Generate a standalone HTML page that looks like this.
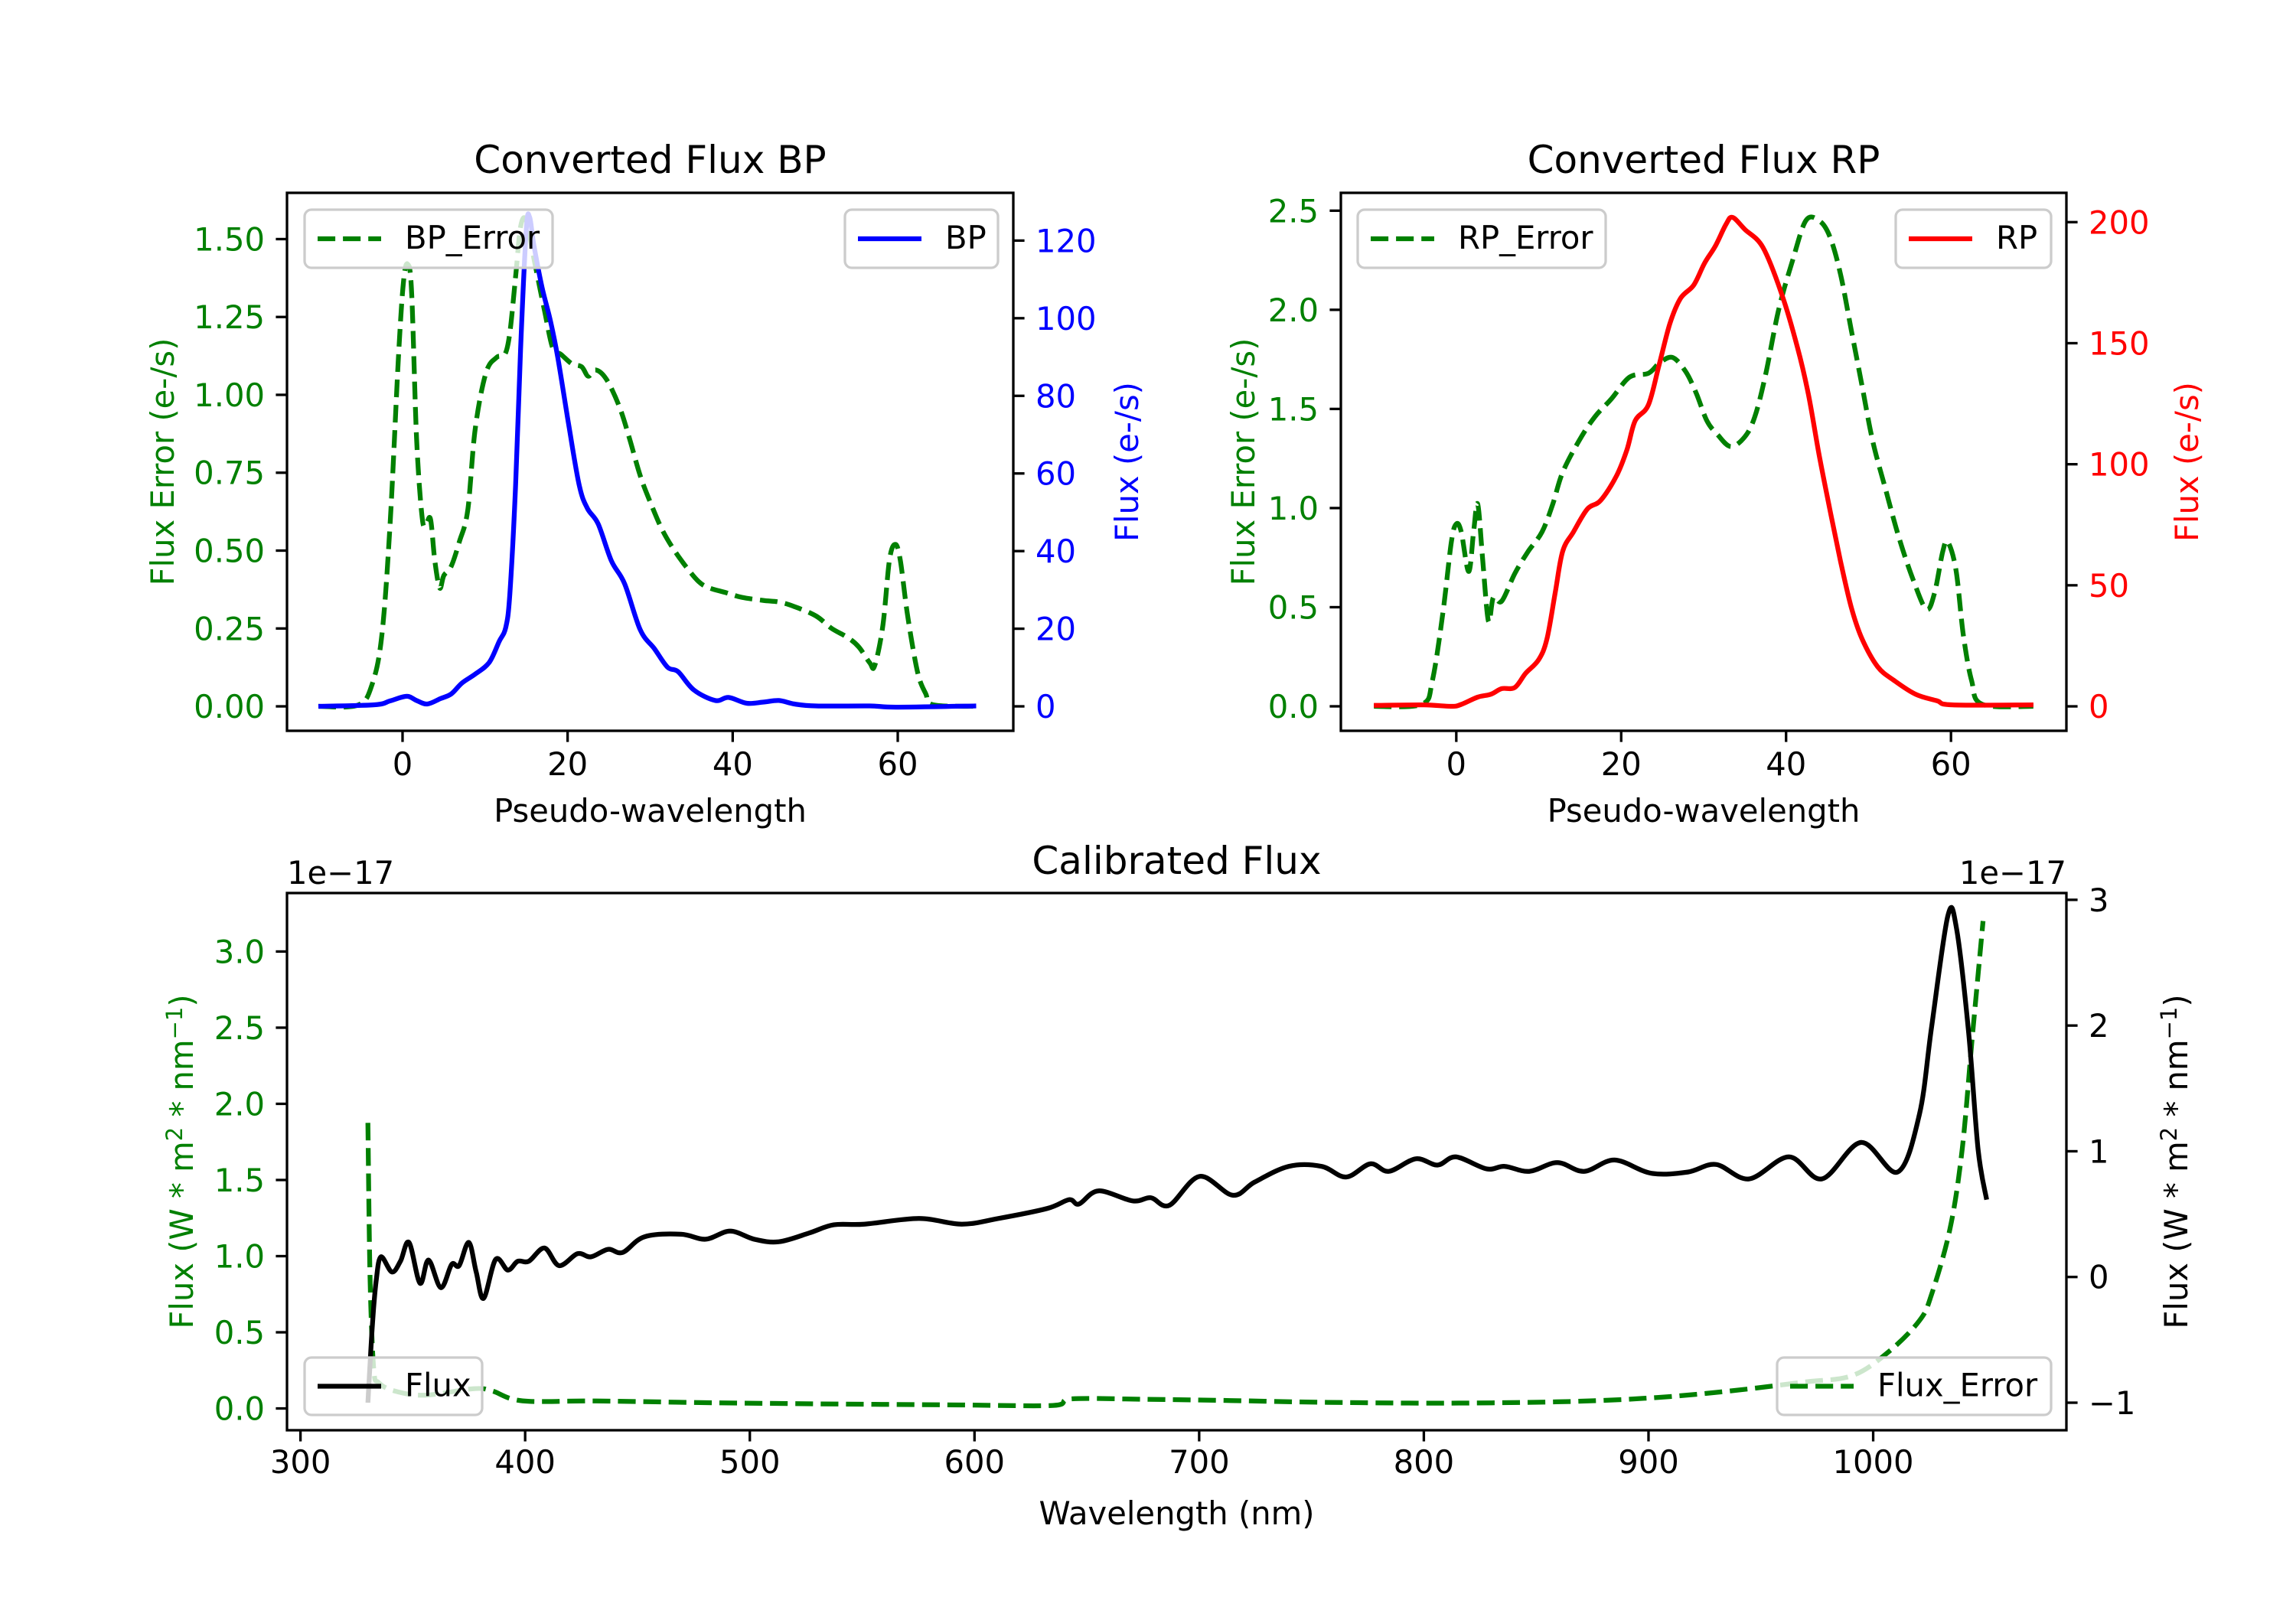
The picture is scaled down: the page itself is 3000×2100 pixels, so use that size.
<!DOCTYPE html>
<html><head><meta charset="utf-8"><style>
html,body{margin:0;padding:0;background:#fff;}
svg{display:block;font-family:"DejaVu Sans","Liberation Sans",sans-serif;}
</style></head><body>
<svg id="fig" xmlns="http://www.w3.org/2000/svg" width="3000" height="2100" viewBox="0 0 3000 2100">
<rect width="3000" height="2100" fill="#fff"/>
</svg>
<script>
// ---------- BP panel data ----------
const bpErrX=[-10.2,-5.4,-3.7,-2.5,-1.5,-0.5,0.1,0.6,1.1,1.7,2.4,2.9,3.4,3.9,4.5,5.0,5.9,6.9,7.9,8.8,10.1,11.4,12.4,13.0,13.7,14.3,15.0,15.9,17.2,18.2,19.2,20.5,21.7,22.5,23.4,24.7,26.3,27.5,28.8,30.1,31.4,32.7,34.3,35.9,37.2,39.2,41.1,43.7,45.6,47.5,50.1,52.0,54.0,55.3,56.6,57.2,58.2,59.0,59.7,60.3,61.2,62.4,63.4,64.3,69.5];
const bpErrY=[0,0.004,0.07,0.23,0.59,1.12,1.36,1.42,1.33,0.86,0.60,0.59,0.60,0.47,0.38,0.42,0.45,0.53,0.63,0.89,1.07,1.12,1.13,1.20,1.38,1.54,1.56,1.44,1.27,1.15,1.13,1.10,1.09,1.06,1.08,1.05,0.96,0.86,0.74,0.65,0.57,0.51,0.45,0.40,0.38,0.365,0.35,0.34,0.335,0.32,0.29,0.25,0.22,0.19,0.14,0.13,0.26,0.47,0.52,0.47,0.29,0.11,0.04,0.005,0];
const bpX=[-10.2,-3.4,-1.5,0.5,1.7,3.0,4.6,5.9,7.2,8.8,10.5,11.7,12.5,13.0,13.7,14.3,15.0,15.4,15.9,16.9,17.9,18.8,20.1,21.4,22.4,23.7,25.3,26.9,28.8,30.5,32.1,33.4,35.3,37.9,39.5,41.7,43.7,45.6,47.5,50.1,56.6,59.8,69.5];
const bpY=[0,0.4,1.4,2.6,1.5,0.6,2.0,3.2,6,8.3,11.3,16.7,20.3,29,57,92,123,126,119,108,99.5,90,73,57,51,47,37.5,31.6,19.7,14.9,10.1,8.9,4.2,1.5,2.3,0.8,1.1,1.5,0.6,0.1,0.1,-0.2,0.1];
const bpLeftTicks=[0,0.25,0.5,0.75,1.0,1.25,1.5];
const bpLeftLabels=["0.00","0.25","0.50","0.75","1.00","1.25","1.50"];
const bpRightTicks=[0,20,40,60,80,100,120];
// ---------- RP panel data ----------
const rpErrX=[-10,-4.2,-2.9,-1.6,-0.6,0,0.6,1.5,2.1,2.6,3.2,3.9,4.5,5.5,7.1,8.7,10.4,11.7,12.9,14.9,16.8,18.8,21.0,23.3,24.6,26.2,27.8,29.1,30.4,31.7,33.3,35.0,36.2,37.5,39.1,40.8,42.4,44.0,45.3,46.6,47.9,49.2,50.5,52.1,53.7,55.4,57.0,58.0,59.0,59.6,60.6,61.5,62.5,63.8,70];
const rpErrY=[0,0.01,0.13,0.48,0.83,0.92,0.88,0.68,0.88,1.02,0.74,0.43,0.55,0.53,0.67,0.78,0.88,1.02,1.18,1.34,1.46,1.55,1.66,1.68,1.73,1.76,1.69,1.58,1.44,1.37,1.31,1.36,1.46,1.67,2.0,2.25,2.45,2.45,2.37,2.18,1.90,1.62,1.34,1.09,0.85,0.64,0.49,0.57,0.78,0.83,0.69,0.36,0.13,0.01,0];
const rpX=[-10,-3.9,-0.6,0.6,2.6,4.2,5.5,7.1,8.4,10.0,11.0,12.0,12.9,14.2,15.9,17.5,19.4,20.7,21.7,23.3,24.6,25.9,27.2,28.8,30.1,31.4,32.7,33.5,35.0,37.2,39.5,41.4,42.7,44.0,45.3,46.6,47.9,49.2,51.1,53.1,55.7,58.3,60.2,70];
const rpY=[0.4,0.6,0,0.8,3.8,5.0,7.3,7.8,13.6,19.3,27.9,47,64,72,81.5,85,95,106,118,124.5,141,158,168.5,174,183,190,199,202,197,189.5,170,148,129,104,81.5,60,41,28,16.4,10.7,5,2.3,0.6,0.6];
const rpLeftTicks=[0,0.5,1.0,1.5,2.0,2.5];
const rpLeftLabels=["0.0","0.5","1.0","1.5","2.0","2.5"];
const rpRightTicks=[0,50,100,150,200];
const pseudoTicks=[0,20,40,60];
// ---------- Calibrated panel data ----------
const fluxX=[330,332,333.7,335.8,340.7,344.5,348.3,353.2,357,362.5,367.3,370.6,374.9,378.2,381.5,386.9,392.3,396.7,401.6,408.6,415.1,423.3,429.3,436.9,443.4,453.1,469.4,480.3,491.2,502,512.9,526.5,537.3,550.9,575.3,594.3,610.6,632.4,642.1,646.5,655.2,670.4,678.5,686.7,700.2,714.9,724.7,739.9,754.5,765.4,776.2,784.4,796.4,806.1,814.3,827.9,836,846.9,859.4,871.3,884.9,901.2,917.5,930,944.7,962.5,977.2,994.6,1010.9,1020.6,1026,1033.2,1037,1042.4,1046.7,1050.5];
const fluxY=[-1.0,-0.38,-0.03,0.16,0.04,0.125,0.275,-0.05,0.135,-0.085,0.1,0.09,0.275,0.04,-0.17,0.14,0.055,0.125,0.125,0.23,0.09,0.185,0.16,0.22,0.195,0.32,0.34,0.30,0.365,0.30,0.28,0.35,0.415,0.42,0.465,0.42,0.465,0.545,0.615,0.58,0.685,0.605,0.63,0.57,0.80,0.65,0.755,0.88,0.88,0.795,0.90,0.84,0.94,0.89,0.955,0.86,0.88,0.84,0.91,0.84,0.93,0.825,0.835,0.895,0.78,0.955,0.78,1.07,0.835,1.295,1.99,2.87,2.78,1.96,1.015,0.615];
const ferrX=[330,331.0,332.6,334.8,341.8,355.4,377.1,385.3,398.8,431.4,485.7,540,594.3,635,643.2,675.8,713.8,757.3,811.6,865.9,903.9,936.5,969.1,990.8,1007.1,1020.6,1026,1034.2,1039.6,1044,1048.9];
const ferrY=[1.875,0.84,0.26,0.17,0.115,0.087,0.13,0.115,0.05,0.049,0.037,0.029,0.023,0.02,0.063,0.06,0.052,0.04,0.035,0.046,0.072,0.115,0.173,0.216,0.375,0.577,0.75,1.18,1.70,2.42,3.20];
const calLeftTicks=[0,0.5,1.0,1.5,2.0,2.5,3.0];
const calLeftLabels=["0.0","0.5","1.0","1.5","2.0","2.5","3.0"];
const calRightTicks=[-1,0,1,2,3];
const calRightLabels=["\u22121","0","1","2","3"];
const wlTicks=[300,400,500,600,700,800,900,1000];

const svg=document.getElementById('fig');
const NS='http://www.w3.org/2000/svg';
const FS=41.7;
function mk(tag,attrs,parent){const e=document.createElementNS(NS,tag);for(const k in attrs)e.setAttribute(k,attrs[k]);(parent||svg).appendChild(e);return e;}
function txt(s,x,y,size,fill,anchor,parent,rot){const t=mk('text',{x:x,y:y,'font-size':size,fill:fill,'text-anchor':anchor||'start'},parent);if(rot)t.setAttribute('transform','rotate('+rot+' '+x+' '+y+')');t.textContent=s;return t;}
function scale(d0,d1,p0,p1){return v=>p0+(v-d0)/(d1-d0)*(p1-p0);}
function pathFrom(xs,ys,sx,sy){
  const P=xs.map((x,i)=>[sx(x),sy(ys[i])]);
  let d='M'+P[0][0].toFixed(1)+','+P[0][1].toFixed(1);
  for(let i=0;i<P.length-1;i++){
    const p0=P[Math.max(0,i-1)],p1=P[i],p2=P[i+1],p3=P[Math.min(P.length-1,i+2)];
    const c1=[p1[0]+(p2[0]-p0[0])/6,p1[1]+(p2[1]-p0[1])/6];
    const c2=[p2[0]-(p3[0]-p1[0])/6,p2[1]-(p3[1]-p1[1])/6];
    d+='C'+c1[0].toFixed(1)+','+c1[1].toFixed(1)+' '+c2[0].toFixed(1)+','+c2[1].toFixed(1)+' '+p2[0].toFixed(1)+','+p2[1].toFixed(1);
  }
  return d;
}

function panel(cfg){
  const g=mk('g',{});
  
  
  const {L,R,T,B}=cfg;
  const sx=scale(cfg.xlim[0],cfg.xlim[1],L,R);
  const syL=scale(cfg.ylL[0],cfg.ylL[1],B,T);
  const syR=scale(cfg.ylR[0],cfg.ylR[1],B,T);
  const clipId='clip-'+cfg.name;
  const cp=mk('clipPath',{id:clipId},g);mk('rect',{x:L,y:T,width:R-L,height:B-T},cp);
  for(const s of cfg.series){
    const sy=s.axis==='L'?syL:syR;
    const p=mk('path',{d:pathFrom(s.x,s.y,sx,sy),fill:'none',stroke:s.color,'stroke-width':s.w||6.25,'stroke-linejoin':'round','clip-path':'url(#'+clipId+')'},g);
    if(s.dash){p.setAttribute('stroke-dasharray','23.1,10');}
    
    
  }
  const fr=mk('rect',{x:L,y:T,width:R-L,height:B-T,fill:'none',stroke:'#000','stroke-width':3.3},g);
  
  
  cfg.xticks.forEach((v,i)=>{const x=sx(v);mk('line',{x1:x,y1:B,x2:x,y2:B+14.6,stroke:'#000','stroke-width':3.3},g);
    const t=txt(String(v),x,B+cfg.xtickDy,FS,'#000','middle',g);
    
    });
  cfg.ltL.forEach((v,i)=>{const y=syL(v);mk('line',{x1:L-14.6,y1:y,x2:L,y2:y,stroke:'#000','stroke-width':3.3},g);
    const t=txt(cfg.llL[i],L-29,y+15,FS,cfg.cL,'end',g);
    
    });
  cfg.ltR.forEach((v,i)=>{const y=syR(v);mk('line',{x1:R,y1:y,x2:R+14.6,y2:y,stroke:'#000','stroke-width':3.3},g);
    const t=txt(cfg.llR[i],R+29,y+15,FS,cfg.cR,'start',g);
    
    });
  const ti=txt(cfg.title,(L+R)/2,cfg.titleY,50,'#000','middle',g);
  
  
  const xl=txt(cfg.xlabel,(L+R)/2,cfg.xlabelY,FS,'#000','middle',g);
  
  
  const yl=txt('',cfg.ylLx,(T+B)/2,FS,cfg.cL,'middle',g,-90);yl.innerHTML=cfg.ylabelL;
  
  
  const yr=txt('',cfg.ylRx,(T+B)/2,FS,cfg.cR,'middle',g,-90);yr.innerHTML=cfg.ylabelR;
  
  
  for(const lg of cfg.legends){
    const lgG=mk('g',{},g);
    
    
    mk('rect',{x:lg.x0,y:lg.y0,width:lg.x1-lg.x0,height:lg.y1-lg.y0,rx:9,fill:'#fff','fill-opacity':0.8,stroke:'#cccccc','stroke-width':3.3},lgG);
    const yc=(lg.y0+lg.y1)/2;
    const ln=mk('line',{x1:lg.x0+17,y1:yc,x2:lg.x0+100,y2:yc,stroke:lg.color,'stroke-width':6.25},lgG);
    if(lg.dash)ln.setAttribute('stroke-dasharray','23.1,10');
    txt(lg.label,lg.x0+131,yc+13,FS,'#000','start',lgG);
  }
  if(cfg.offsets){
    const o1=txt('1e\u221217',L,cfg.offsetY,FS,'#000','start',g);
    
    
    const o2=txt('1e\u221217',R,cfg.offsetY,FS,'#000','end',g);
    
    
  }
}

panel({name:'bp-panel',L:375,R:1324,T:252,B:955,xlim:[-14,74],ylL:[-0.0785,1.6485],ylR:[-6.3,132.3],
  series:[{x:bpErrX,y:bpErrY,axis:'L',color:'#008000',dash:true,dname:'bp-error-line'},{x:bpX,y:bpY,axis:'R',color:'#0000ff',dname:'bp-line'}],
  xticks:pseudoTicks,xtickDy:58,ltL:bpLeftTicks,llL:bpLeftLabels,ltR:bpRightTicks,llR:bpRightTicks.map(String),cL:'#008000',cR:'#0000ff',
  title:'Converted Flux BP',titleY:226,xlabel:'Pseudo-wavelength',xlabelY:1074,ylLx:227,ylRx:1487,ylabelL:'Flux Error (e-/s)',ylabelR:'Flux (e-/s)',
  legends:[{x0:398,x1:722,y0:274,y1:350,color:'#008000',dash:true,label:'BP_Error'},{x0:1104,x1:1304,y0:274,y1:350,color:'#0000ff',label:'BP'}]});

panel({name:'rp-panel',L:1752,R:2700,T:252,B:955,xlim:[-14,74],ylL:[-0.1235,2.59],ylR:[-10.1,212.1],
  series:[{x:rpErrX,y:rpErrY,axis:'L',color:'#008000',dash:true,dname:'rp-error-line'},{x:rpX,y:rpY,axis:'R',color:'#ff0000',dname:'rp-line'}],
  xticks:pseudoTicks,xtickDy:58,ltL:rpLeftTicks,llL:rpLeftLabels,ltR:rpRightTicks,llR:rpRightTicks.map(String),cL:'#008000',cR:'#ff0000',
  title:'Converted Flux RP',titleY:226,xlabel:'Pseudo-wavelength',xlabelY:1074,ylLx:1639,ylRx:2872,ylabelL:'Flux Error (e-/s)',ylabelR:'Flux (e-/s)',
  legends:[{x0:1774,x1:2098,y0:274,y1:350,color:'#008000',dash:true,label:'RP_Error'},{x0:2477,x1:2680,y0:274,y1:350,color:'#ff0000',label:'RP'}]});

panel({name:'calibrated-panel',L:375,R:2700,T:1167,B:1869,xlim:[294,1086],ylL:[-0.143,3.384],ylR:[-1.219,3.054],
  series:[{x:ferrX,y:ferrY,axis:'L',color:'#008000',dash:true,dname:'flux-error-line'},{x:fluxX,y:fluxY,axis:'R',color:'#000000',dname:'flux-line'}],
  xticks:wlTicks,xtickDy:56,ltL:calLeftTicks,llL:calLeftLabels,ltR:calRightTicks,llR:calRightLabels,cL:'#008000',cR:'#000000',
  title:'Calibrated Flux',titleY:1142,xlabel:'Wavelength (nm)',xlabelY:1992,ylLx:252,ylRx:2858,
  ylabelL:'Flux (W * m<tspan dy="-14" font-size="29">2</tspan><tspan dy="14"> * nm</tspan><tspan dy="-14" font-size="29">\u22121</tspan><tspan dy="14">)</tspan>',
  ylabelR:'Flux (W * m<tspan dy="-14" font-size="29">2</tspan><tspan dy="14"> * nm</tspan><tspan dy="-14" font-size="29">\u22121</tspan><tspan dy="14">)</tspan>',
  offsets:true,offsetY:1155,
  legends:[{x0:398,x1:630,y0:1774,y1:1849,color:'#000000',label:'Flux'},{x0:2322,x1:2680,y0:1774,y1:1849,color:'#008000',dash:true,label:'Flux_Error'}]});
</script>
</body></html>
